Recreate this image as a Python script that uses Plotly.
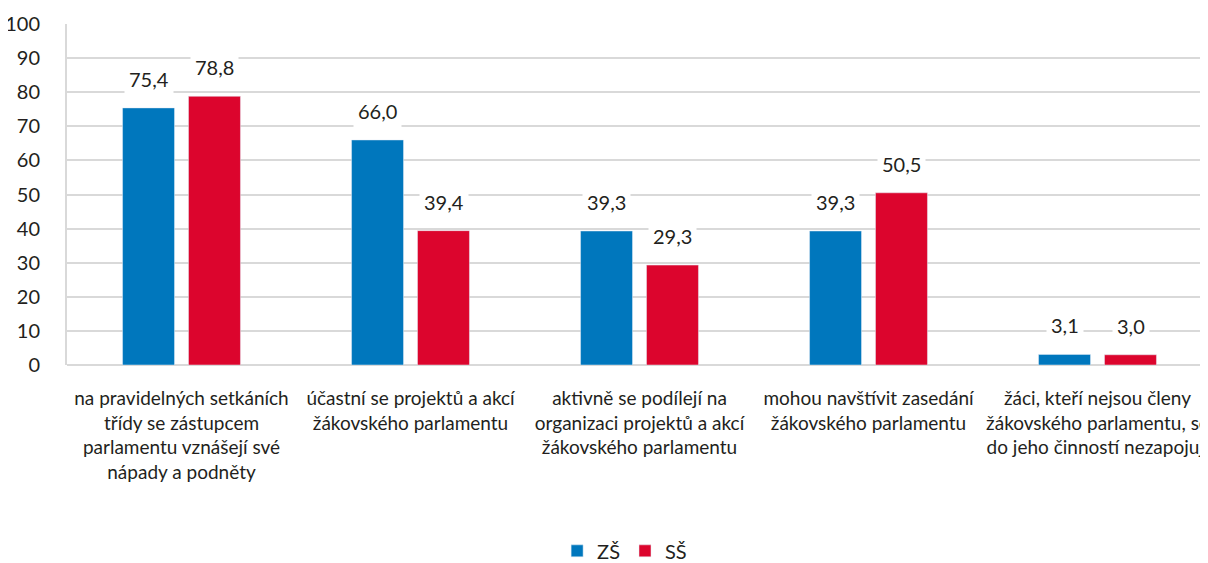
import plotly.graph_objects as go

categories = [
    "na pravidelných setkáních<br>třídy se zástupcem<br>parlamentu vznášejí své<br>nápady a podněty",
    "účastní se projektů a akcí<br>žákovského parlamentu",
    "aktivně se podílejí na<br>organizaci projektů a akcí<br>žákovského parlamentu",
    "mohou navštívit zasedání<br>žákovského parlamentu",
    "žáci, kteří nejsou členy<br>žákovského parlamentu, se<br>do jeho činností nezapojují",
]
zs_values = [75.4, 66.0, 39.3, 39.3, 3.1]
ss_values = [78.8, 39.4, 29.3, 50.5, 3.0]
series_names = ["ZŠ", "SŠ"]
tick_vals = [0, 10, 20, 30, 40, 50, 60, 70, 80, 90, 100]

FONT = "Lato, Roboto, sans-serif"
TXT = "#231f20"
BLUE = "#0077bd"
RED = "#dc052d"
GRID = "#d9d9d9"

fig = go.Figure()
fig.add_trace(go.Bar(x=categories, y=zs_values, name=series_names[0], marker_color=BLUE))
fig.add_trace(go.Bar(x=categories, y=ss_values, name=series_names[1], marker_color=RED))

def fmt(v):
    return f"{v:.1f}".replace(".", ",")

for vals, shift in ((zs_values, -33), (ss_values, 33)):
    for c, v in zip(categories, vals):
        fig.add_annotation(
            x=c, y=v, xref="x", yref="y", text=fmt(v), showarrow=False,
            xshift=shift, yshift=12, yanchor="bottom",
            bgcolor="white", borderpad=4,
            font=dict(family=FONT, size=20, color=TXT),
        )

fig.update_layout(
    width=1208, height=563,
    margin=dict(l=59, r=4, t=16, b=206, autoexpand=False),
    paper_bgcolor="white", plot_bgcolor="white",
    barmode="group", bargap=0.424, bargroupgap=0.212,
    font=dict(family=FONT, size=20, color=TXT),
    showlegend=True,
    legend=dict(orientation="h", x=0.487, xanchor="center", y=-0.545, yanchor="middle",
                font=dict(family=FONT, size=20, color=TXT), itemwidth=30,
                traceorder="normal"),
)
fig.update_xaxes(
    type="category", range=[-0.5, 4.5], automargin=False, tickangle=0,
    showline=False, showgrid=False, ticks="", ticklabelstandoff=20,
    tickfont=dict(family=FONT, size=19, color=TXT),
)
fig.update_yaxes(
    range=[0, 100], tickvals=tick_vals, automargin=False,
    showgrid=True, gridcolor=GRID, gridwidth=2,
    showline=True, linecolor=GRID, linewidth=2,
    zeroline=True, zerolinecolor=GRID, zerolinewidth=2,
    ticks="", ticklabelstandoff=21,
    tickfont=dict(family=FONT, size=20, color=TXT),
)

fig.write_html("out.html")
